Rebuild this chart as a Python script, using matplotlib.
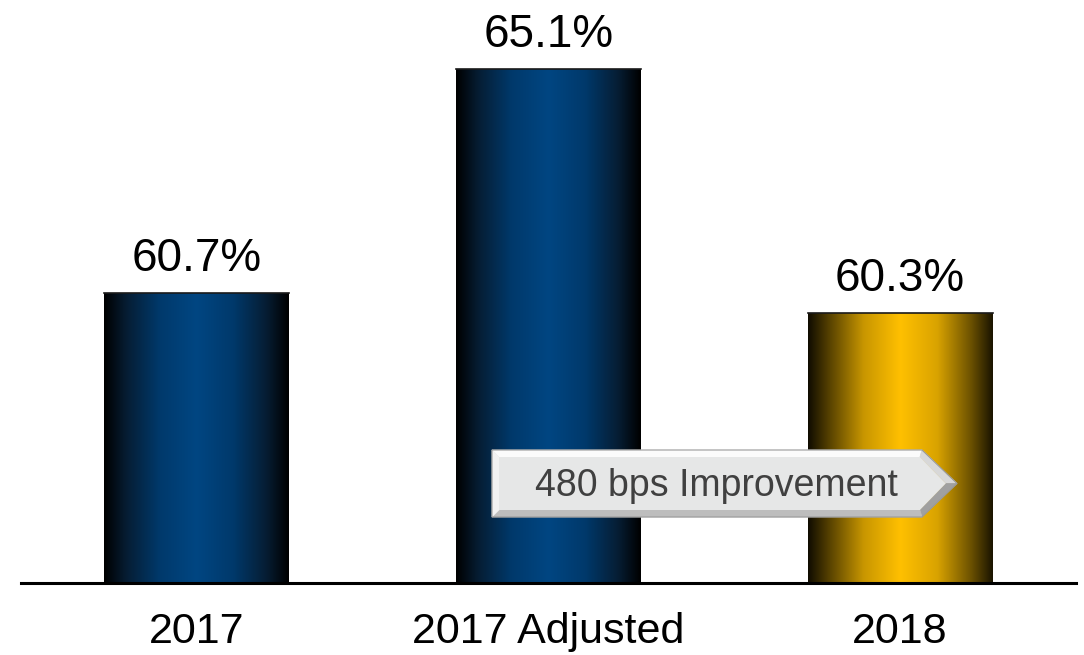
import numpy as np
import matplotlib
matplotlib.use("Agg")
import matplotlib.pyplot as plt
from matplotlib.colors import LinearSegmentedColormap
from matplotlib.patches import Polygon, Rectangle

plt.rcParams['font.family'] = ['Liberation Sans', 'DejaVu Sans']

categories = ['2017', '2017 Adjusted', '2018']
values = [60.7, 65.1, 60.3]
value_labels = ['60.7%', '65.1%', '60.3%']
arrow_text = '480 bps Improvement'

blue = LinearSegmentedColormap.from_list('blue', [
    (0.0, '#000000'), (0.12, '#061d33'), (0.3, '#00396b'), (0.5, '#004682'),
    (0.7, '#00396b'), (0.88, '#061d33'), (1.0, '#000000')])
gold = LinearSegmentedColormap.from_list('gold', [
    (0.0, '#100c00'), (0.12, '#5a4400'), (0.3, '#c89600'), (0.5, '#ffc000'),
    (0.7, '#d9a300'), (0.88, '#6e5300'), (1.0, '#1a1400')])
bar_cmaps = [blue, blue, gold]

W, H = 1084, 655
fig = plt.figure(figsize=(W / 100, H / 100), dpi=100)
ax = fig.add_axes([21 / W, (H - 583) / H, 1055 / W, 583 / H])

ymin = 55
ax.set_xlim(-0.5, 2.5)
ax.set_ylim(ymin, ymin + 583 / 50.9)

width = 0.526
grad = np.linspace(0, 1, 256).reshape(1, -1)
x = np.arange(len(categories))
bars = ax.bar(x, [v - ymin for v in values], bottom=ymin, width=width,
              color='none', edgecolor='none', zorder=2)
for bar, cmap in zip(bars, bar_cmaps):
    x0, y0 = bar.get_x(), bar.get_y()
    w, h = bar.get_width(), bar.get_height()
    im = ax.imshow(grad, cmap=cmap, aspect='auto', extent=[x0, x0 + w, y0, y0 + h],
                   zorder=2, interpolation='bicubic')
    im.set_clip_path(Rectangle((x0, y0), w, h, transform=ax.transData))
    ax.plot([x0, x0 + w], [y0 + h, y0 + h], color='#1a1a1a', lw=1.2, zorder=3)

for xi, v, lab in zip(x, values, value_labels):
    ax.annotate(lab, (xi, v), xytext=(0, 16), textcoords='offset points',
                ha='center', va='baseline', fontsize=33, color='black')

for s in ['top', 'right', 'left']:
    ax.spines[s].set_visible(False)
ax.spines['bottom'].set_linewidth(2.2)
ax.spines['bottom'].set_zorder(4)
ax.set_yticks([])
ax.set_xticks(x)
ax.set_xticklabels(categories, fontsize=31)
ax.tick_params(axis='x', length=0, pad=21)

# arrow callout drawn in pixel space on an overlay
ov = fig.add_axes([0, 0, 1, 1], zorder=5)
ov.set_xlim(0, W)
ov.set_ylim(H, 0)
ov.axis('off')
L, R, tip, T, B = 492, 922, 957, 450, 517
M = (T + B) / 2
b = 7
outer = [(L, T), (R, T), (tip, M), (R, B), (L, B)]
inner = [(L + b, T + b), (R - b * 0.3, T + b), (tip - b * 1.6, M), (R - b * 0.3, B - b), (L + b, B - b)]
facet_colors = ['#fbfbfb', '#d8d8d8', '#a0a0a0', '#bdbdbd', '#f2f2f2']
for i in range(5):
    j = (i + 1) % 5
    ov.add_patch(Polygon([outer[i], outer[j], inner[j], inner[i]], closed=True,
                         facecolor=facet_colors[i], edgecolor=facet_colors[i], lw=0.5))
ov.add_patch(Polygon(inner, closed=True, facecolor='#e6e7e7', edgecolor='none'))
ov.add_patch(Polygon(outer, closed=True, facecolor='none', edgecolor='#9a9a9a', lw=0.8))
ov.text((536 + 897) / 2, M + 3, arrow_text, ha='center', va='center', fontsize=27,
        color='#404040')

fig.savefig('out.png', dpi=100)
